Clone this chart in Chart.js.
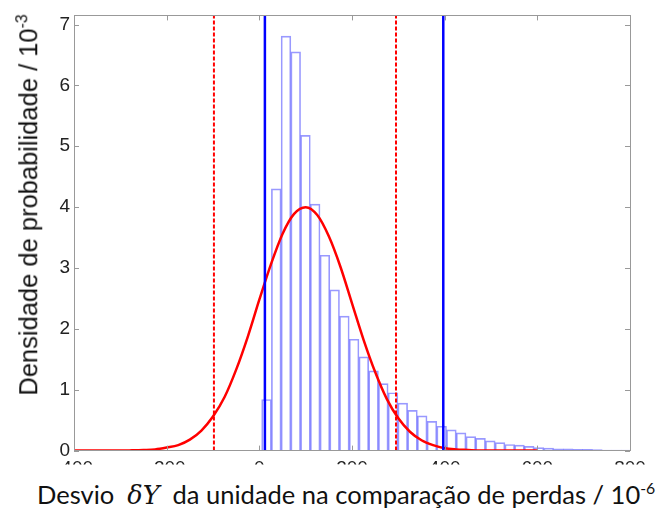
<!DOCTYPE html>
<html>
<head>
<meta charset="utf-8">
<script src="https://cdn.jsdelivr.net/npm/chart.js@4.4.1/dist/chart.umd.min.js"></script>
<style>
  body { margin: 0; background: #fff; }
  #wrap { position: relative; width: 667px; height: 509px; overflow: hidden; }
  #c { position: absolute; left: 0; top: 0; }
  #ytitle {
    position: absolute; left: 29px; top: 205px;
    transform: translate(-50%, -50%) rotate(-90deg);
    white-space: nowrap; font-family: "Liberation Sans", Arial, sans-serif;
    font-size: 25.5px; color: #111; line-height: 1;
  }
  #xtitle {
    position: absolute; left: 37px; top: 482px;
    white-space: nowrap; font-family: Lato, "Open Sans", sans-serif;
    font-size: 25.5px; color: #111; line-height: 1;
  }
  sup { font-size: 0.62em; vertical-align: 0.65em; line-height: 0; }
  .math { font-family: "DejaVu Serif", "Liberation Serif", serif; font-style: italic; }
</style>
</head>
<body>
<div id="wrap">
  <canvas id="c" width="667" height="466"></canvas>
  <div id="ytitle">Densidade de probabilidade / 10<sup>-3</sup></div>
  <div id="xtitle">Desvio&nbsp;&nbsp;<span class="math">δY</span>&nbsp;&nbsp;da unidade na comparação de perdas / 10<sup>-6</sup></div>
</div>
<script>
// histogram, bin width 21, first bin starts at 5
var binCenters = [15.5, 36.5, 57.5, 78.5, 99.5, 120.5, 141.5, 162.5, 183.5, 204.5,
  225.5, 246.5, 267.5, 288.5, 309.5, 330.5, 351.5, 372.5, 393.5, 414.5,
  435.5, 456.5, 477.5, 498.5, 519.5, 540.5, 561.5, 582.5, 603.5, 624.5,
  645.5, 666.5, 687.5, 708.5, 729.5, 750.5, 771.5, 792.5];
var binDensity = [0.84, 4.30, 6.81, 6.55, 5.18, 4.05, 3.21, 2.64, 2.21, 1.83,
  1.54, 1.31, 1.10, 0.95, 0.78, 0.66, 0.57, 0.48, 0.40, 0.34,
  0.29, 0.23, 0.20, 0.16, 0.13, 0.10, 0.09, 0.07, 0.05, 0.04,
  0.03, 0.03, 0.02, 0.02, 0.015, 0.01, 0.01, 0.01];

// red fitted curve (read every 25)
var curveX = [-400, -375, -350, -325, -300, -275, -250, -225, -200, -175, -150, -125, -100, -75, -50, -25,
  0, 25, 50, 75, 100, 125, 150, 175, 200, 225, 250, 275, 300, 325, 350, 375, 400, 425, 450, 475, 500, 525, 550, 575, 600];
var curveY = [0, 0, 0, 0, 0, 0.004, 0.01, 0.02, 0.05, 0.09, 0.18, 0.33, 0.56, 0.88, 1.33, 1.87,
  2.48, 3.06, 3.56, 3.89, 4.00, 3.87, 3.52, 3.02, 2.42, 1.82, 1.29, 0.85, 0.53, 0.31, 0.17, 0.09, 0.04, 0.02, 0.01, 0, 0, 0, 0, 0, 0];

var redLimits = [-98, 295];
var blueLimits = [12, 397];

var xTicks = [-400, -200, 0, 200, 400, 600, 800];
var yTicks = [0, 1, 2, 3, 4, 5, 6, 7];
var yTop = 7.15;

function vline(x) {
  return [{x: x, y: 0}, {x: x, y: yTop}];
}

var datasets = [];
blueLimits.forEach(function (v) {
  datasets.push({type: 'line', data: vline(v), borderColor: '#0000ff', borderWidth: 2.5,
    pointRadius: 0, order: 0});
});
redLimits.forEach(function (v) {
  datasets.push({type: 'line', data: vline(v), borderColor: '#ff0000', borderWidth: 2,
    borderDash: [4, 2], pointRadius: 0, order: 1});
});
datasets.push({
  type: 'line',
  data: curveX.map(function (x, i) { return {x: x, y: curveY[i]}; }),
  borderColor: '#ff0000', borderWidth: 2.5, pointRadius: 0,
  cubicInterpolationMode: 'monotone', order: 2
});
datasets.push({
  type: 'bar',
  data: binCenters.map(function (x, i) { return {x: x, y: binDensity[i]}; }),
  borderColor: 'rgba(70,70,255,0.55)', backgroundColor: 'rgba(255,255,255,0)',
  borderWidth: 1, barPercentage: 1, categoryPercentage: 1, order: 3
});

// box + inward ticks, matlab style
var boxPlugin = {
  id: 'box',
  afterDraw: function (chart) {
    var ctx = chart.ctx, a = chart.chartArea;
    var xs = chart.scales.x, ys = chart.scales.y;
    ctx.save();
    ctx.strokeStyle = '#999';
    ctx.lineWidth = 1;
    ctx.beginPath();
    xTicks.forEach(function (t) {
      var px = Math.round(xs.getPixelForValue(t)) + 0.5;
      ctx.moveTo(px, a.top); ctx.lineTo(px, a.top + 5);
      ctx.moveTo(px, a.bottom); ctx.lineTo(px, a.bottom - 5);
    });
    yTicks.forEach(function (t) {
      var py = Math.round(ys.getPixelForValue(t)) + 0.5;
      ctx.moveTo(a.left, py); ctx.lineTo(a.left + 5, py);
      ctx.moveTo(a.right, py); ctx.lineTo(a.right - 5, py);
    });
    ctx.stroke();
    ctx.strokeRect(Math.round(a.left) + 0.5, Math.round(a.top) + 0.5,
      Math.round(a.right - a.left), Math.round(a.bottom - a.top));
    ctx.restore();
  }
};

new Chart(document.getElementById('c'), {
  type: 'bar',
  data: {datasets: datasets},
  options: {
    responsive: false,
    animation: false,
    devicePixelRatio: 1,
    layout: {padding: {left: 0, right: 37, top: 15, bottom: 0}},
    plugins: {legend: {display: false}, tooltip: {enabled: false}},
    scales: {
      x: {
        type: 'linear', min: -400, max: 800, offset: false,
        grid: {display: false, drawTicks: false, offset: false},
        border: {display: false},
        ticks: {stepSize: 200, padding: 7, color: '#222', maxRotation: 0,
          font: {family: 'Liberation Sans', size: 19}},
        afterFit: function (s) { s.height = 14; }
      },
      y: {
        type: 'linear', min: 0, max: yTop,
        grid: {display: false, drawTicks: false},
        border: {display: false},
        ticks: {stepSize: 1, padding: 4, color: '#222',
          font: {family: 'Liberation Sans', size: 19}},
        afterBuildTicks: function (s) {
          s.ticks = yTicks.map(function (v) { return {value: v}; });
        },
        afterFit: function (s) { s.width = 74; }
      }
    }
  },
  plugins: [boxPlugin]
});
</script>
</body>
</html>
